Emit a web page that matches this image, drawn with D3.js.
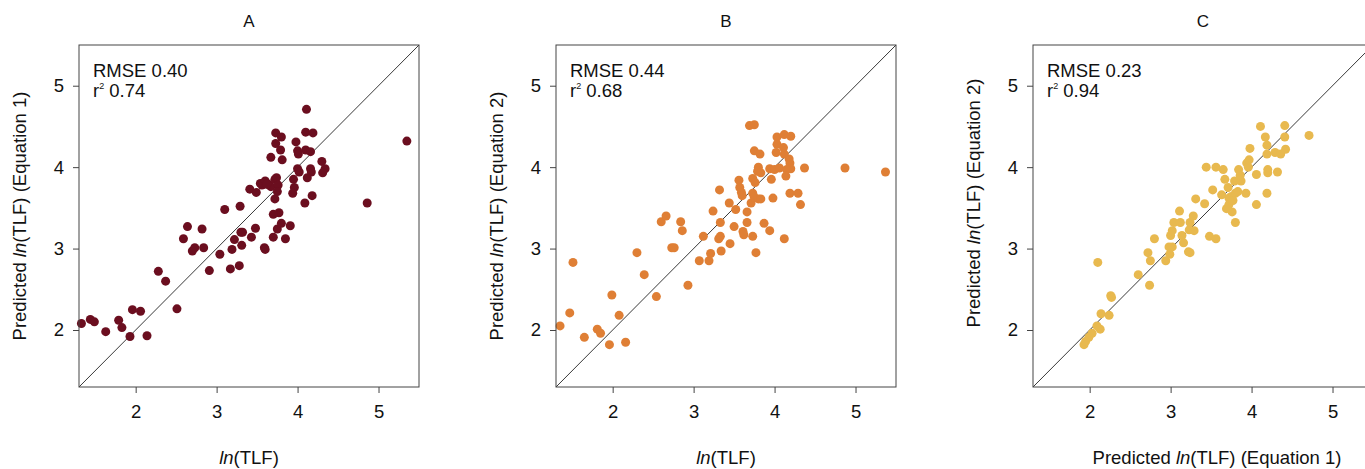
<!DOCTYPE html>
<html><head><meta charset="utf-8">
<script src="https://cdn.jsdelivr.net/npm/d3@7"></script>
<style>
body{margin:0;background:#fff}
svg{display:block;font-family:"Liberation Sans",Arial,Helvetica,sans-serif}
</style>
</head><body>
<svg id="chart" width="1365" height="469"></svg>
<script>
// ---------- data ----------
const panelTitles = ["A", "B", "C"];
const rmseValues = ["0.40", "0.44", "0.23"];
const r2Values = ["0.74", "0.68", "0.94"];
const tickValues = [2, 3, 4, 5];
const axisDomain = [1.3, 5.5];
const xLabelParts = [["", "ln", "(TLF)"], ["", "ln", "(TLF)"], ["Predicted ", "ln", "(TLF) (Equation 1)"]];
const yLabelParts = [["Predicted ", "ln", "(TLF) (Equation 1)"], ["Predicted ", "ln", "(TLF) (Equation 2)"], ["Predicted ", "ln", "(TLF) (Equation 2)"]];
const pointColors = ["#6b0e1f", "#df7f35", "#e8b94f"];

const pointsA = [
  [1.33,2.08],[1.44,2.13],[1.49,2.10],[1.63,1.98],[1.79,2.12],[1.83,2.03],[1.96,2.25],[2.06,2.23],[1.93,1.92],[2.14,1.93],
  [2.28,2.72],[2.37,2.60],[2.51,2.26],
  [2.59,3.12],[2.64,3.27],[2.70,2.97],[2.73,3.01],[2.82,3.24],[2.84,3.01],[2.91,2.73],[3.04,2.93],[3.10,3.48],[3.17,2.75],
  [3.19,2.99],[3.22,3.11],[3.28,2.79],[3.29,3.52],[3.30,3.20],[3.32,3.20],[3.31,3.04],[3.43,3.14],[3.48,3.25],[3.59,3.01],
  [3.60,2.99],[3.70,3.14],[3.75,3.24],[3.80,3.31],[3.77,3.44],[3.70,3.42],[3.85,3.12],[3.91,3.28],
  [3.41,3.73],[3.49,3.69],[3.54,3.80],[3.56,3.78],[3.60,3.83],[3.64,3.79],[3.67,3.76],[3.72,3.85],[3.74,3.87],[3.76,3.78],
  [3.75,3.70],[3.72,3.61],[3.62,3.79],
  [3.73,4.42],[3.80,4.37],[4.10,4.43],[4.19,4.42],[3.73,4.29],[3.98,4.31],[3.79,4.21],[4.00,4.20],[4.01,4.16],[4.10,4.21],
  [4.16,4.19],[3.67,4.12],[3.81,4.09],[4.11,4.71],
  [4.30,4.07],[4.34,3.98],[4.31,3.93],[4.16,3.98],[4.17,3.94],[4.00,3.98],[4.02,3.94],[4.12,3.87],[3.95,3.85],[3.96,3.75],
  [3.94,3.68],[4.18,3.65],[4.09,3.56],
  [4.86,3.56],[5.35,4.32]
];

const pointsB = [
  [1.35,2.05],[1.47,2.21],[1.51,2.83],[1.65,1.91],[1.81,2.01],[1.85,1.96],[1.96,1.82],[2.16,1.85],[1.99,2.43],[2.08,2.18],
  [2.30,2.95],[2.39,2.68],[2.54,2.41],[2.60,3.33],[2.66,3.40],[2.73,3.01],[2.76,3.01],[2.84,3.33],[2.86,3.22],[2.93,2.55],
  [3.07,2.85],[3.12,3.15],[3.19,2.85],[3.21,2.94],[3.24,3.46],[3.32,3.72],[3.33,3.32],[3.31,3.12],[3.33,3.15],[3.34,2.97],
  [3.45,3.06],[3.50,3.27],[3.44,3.56],[3.52,3.48],[3.56,3.84],[3.57,3.75],[3.59,3.69],[3.60,3.65],[3.61,3.21],[3.62,3.17],
  [3.66,3.32],[3.66,3.45],[3.71,3.56],[3.73,3.15],[3.77,2.95],[3.69,4.51],[3.75,4.52],[3.75,4.20],[3.82,4.16],[3.73,3.86],
  [3.76,3.81],[3.80,4.00],[3.79,3.95],[3.83,3.93],[3.73,3.68],[3.75,3.63],[3.80,3.61],[3.83,3.61],[3.87,3.31],[3.94,3.22],
  [3.96,3.85],[3.98,3.62],[3.94,3.98],[4.00,3.97],[4.06,3.99],[4.03,4.37],[4.03,4.28],[4.02,4.18],[4.11,4.24],[4.12,4.40],
  [4.20,4.38],[4.12,4.16],[4.18,4.10],[4.19,4.05],[4.20,3.98],[4.15,3.97],[4.14,3.89],[4.19,3.68],[4.12,3.12],[4.29,3.68],
  [4.32,3.54],[4.37,3.99],[4.87,3.99],[5.37,3.94]
];

const pointsC = [
  [1.93,1.82],[1.95,1.86],[1.99,1.91],[2.03,1.96],[2.09,2.05],[2.13,2.01],[2.14,2.20],[2.24,2.18],[2.26,2.42],[2.27,2.40],
  [2.10,2.83],[2.60,2.68],[2.74,2.55],[2.72,2.95],[2.75,2.85],[2.80,3.12],[2.94,2.85],[2.98,3.02],[2.99,2.93],[3.02,3.02],
  [3.00,3.16],[3.02,3.22],[3.04,3.32],[3.12,3.32],[3.11,3.46],[3.14,3.16],[3.16,3.07],[3.22,2.96],[3.24,2.95],[3.23,3.23],
  [3.24,3.32],[3.28,3.40],[3.29,3.22],[3.31,3.61],[3.42,3.55],[3.48,3.15],[3.56,3.12],[3.44,4.00],[3.52,3.72],[3.56,4.00],
  [3.65,3.97],[3.63,3.66],[3.67,3.85],[3.71,3.75],[3.72,3.62],[3.75,3.64],[3.72,3.54],[3.69,3.49],[3.76,3.45],[3.80,3.32],
  [3.79,3.83],[3.84,3.97],[3.87,3.83],[3.80,3.68],[3.83,3.70],[3.86,3.90],[3.77,3.59],[3.93,3.68],[3.94,4.05],[3.96,4.00],
  [3.97,4.09],[3.98,4.23],[4.06,3.91],[4.06,3.54],[4.11,4.50],[4.17,4.37],[4.19,4.27],[4.19,4.16],[4.20,3.97],[4.20,3.93],
  [4.19,3.68],[4.29,4.18],[4.36,4.16],[4.32,3.94],[4.41,4.51],[4.41,4.37],[4.42,4.22],[4.71,4.39]
];
const panelPoints = [pointsA, pointsB, pointsC];

// ---------- layout ----------
const svg = d3.select("#chart");
const boxLefts = [79, 556, 1033];
const boxTop = 45, boxW = 340, boxH = 342;
const xLabelCenters = [249, 726, 1217];
const yLabelCenters = [216, 216, 203];
const frameColor = "#444";
const textColor = "#111";

function addLabel(sel, parts) {
  sel.append("tspan").text(parts[0]);
  sel.append("tspan").attr("font-style", "italic").text(parts[1]);
  sel.append("tspan").text(parts[2]);
}

panelTitles.forEach((title, i) => {
  const L = boxLefts[i];
  const x = d3.scaleLinear().domain(axisDomain).range([L, L + boxW]);
  const y = d3.scaleLinear().domain(axisDomain).range([boxTop + boxH, boxTop]);
  const g = svg.append("g");

  // x axis
  const xAxis = g.append("g").attr("transform", `translate(0,${boxTop + boxH})`)
    .call(d3.axisBottom(x).tickValues(tickValues).tickSize(6).tickPadding(12).tickFormat(d3.format("d")));
  xAxis.select(".domain").remove();
  xAxis.selectAll("line").attr("stroke", frameColor);
  xAxis.selectAll("text").attr("font-size", 18.5).attr("fill", textColor).attr("font-family", "Liberation Sans, Arial, sans-serif");

  // y axis
  const yAxis = g.append("g").attr("transform", `translate(${L},0)`)
    .call(d3.axisLeft(y).tickValues(tickValues).tickSize(6).tickPadding(9).tickFormat(d3.format("d")));
  yAxis.select(".domain").remove();
  yAxis.selectAll("line").attr("stroke", frameColor);
  yAxis.selectAll("text").attr("font-size", 18.5).attr("fill", textColor).attr("font-family", "Liberation Sans, Arial, sans-serif");

  // 1:1 line
  g.append("line")
    .attr("x1", x(axisDomain[0])).attr("y1", y(axisDomain[0]))
    .attr("x2", x(axisDomain[1])).attr("y2", y(axisDomain[1]))
    .attr("stroke", "#222").attr("stroke-width", 0.9);

  // points
  g.append("g").selectAll("circle").data(panelPoints[i]).join("circle")
    .attr("cx", d => x(d[0])).attr("cy", d => y(d[1]))
    .attr("r", 4.5).attr("fill", pointColors[i]);

  // frame
  g.append("rect").attr("x", L).attr("y", boxTop).attr("width", boxW).attr("height", boxH)
    .attr("fill", "none").attr("stroke", frameColor).attr("stroke-width", 1);

  // title
  g.append("text").attr("x", L + boxW / 2).attr("y", 27).attr("text-anchor", "middle")
    .attr("font-size", 17).attr("fill", textColor).text(title);

  // stats
  g.append("text").attr("x", L + 14).attr("y", 77).attr("font-size", 18.5).attr("fill", textColor)
    .text("RMSE " + rmseValues[i]);
  const r2 = g.append("text").attr("x", L + 14).attr("y", 97).attr("font-size", 18.5).attr("fill", textColor);
  r2.append("tspan").text("r");
  r2.append("tspan").attr("font-size", 9).attr("dy", -8).text("2");
  r2.append("tspan").attr("dy", 8).text(" " + r2Values[i]);

  // axis labels
  const xl = g.append("text").attr("x", xLabelCenters[i]).attr("y", 464).attr("text-anchor", "middle")
    .attr("font-size", 18.5).attr("fill", textColor);
  addLabel(xl, xLabelParts[i]);
  const yl = g.append("text").attr("transform", `translate(${L - 53},${yLabelCenters[i]}) rotate(-90)`)
    .attr("text-anchor", "middle").attr("font-size", 18.5).attr("fill", textColor);
  addLabel(yl, yLabelParts[i]);
});
</script>
</body></html>
